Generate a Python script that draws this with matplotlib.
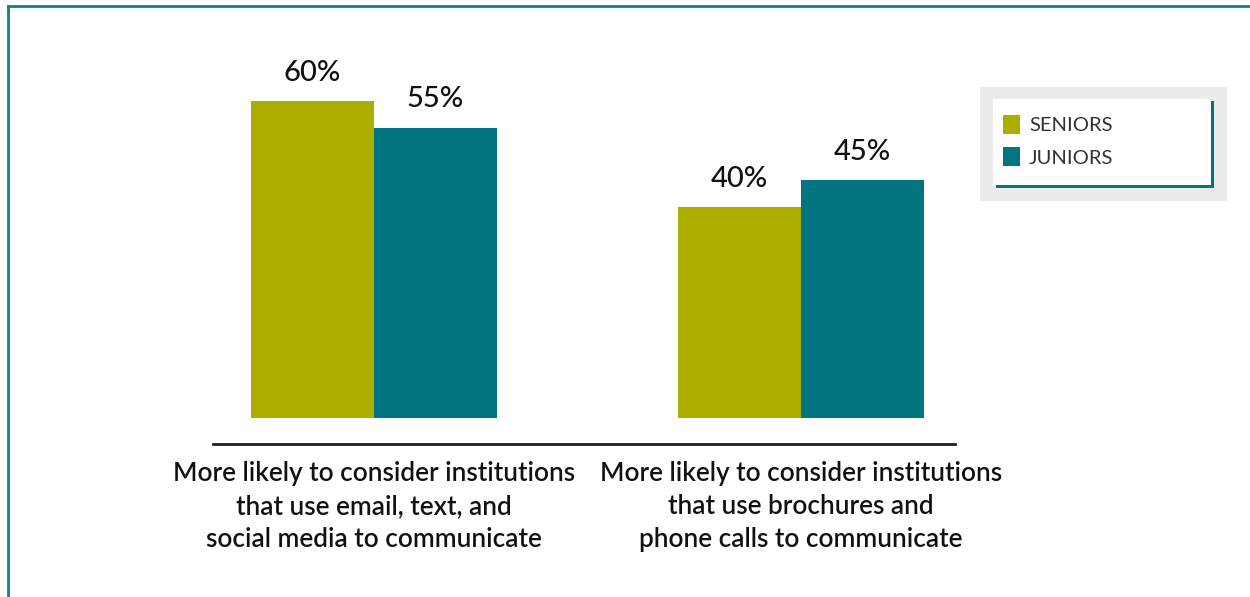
import matplotlib
matplotlib.use("Agg")
import matplotlib.pyplot as plt
from matplotlib.patches import Rectangle, Patch
from matplotlib.lines import Line2D
import numpy as np

categories = ["More likely to consider institutions\nthat use email, text, and\nsocial media to communicate",
              "More likely to consider institutions\nthat use brochures and\nphone calls to communicate"]
series_names = ["SENIORS", "JUNIORS"]
seniors = [60, 40]
juniors = [55, 45]

c_sen = "#ADAD00"
c_jun = "#027580"
c_border = "#12808C"

W, H = 1250, 597
fig = plt.figure(figsize=(W / 100, H / 100), dpi=100)
plt.rcParams['font.family'] = ['Lato', 'DejaVu Sans']

def fx(px):
    return px / W

def fy(py):
    return 1 - py / H

ax = fig.add_axes([fx(213), fy(418), fx(955) - fx(213), 369.6 / H])
x = np.arange(len(categories))
bw = 0.288
b1 = ax.bar(x - bw / 2, seniors, bw, color=c_sen, label=series_names[0])
b2 = ax.bar(x + bw / 2, juniors, bw, color=c_jun, label=series_names[1])
for bars in (b1, b2):
    for r in bars:
        ax.annotate(f"{r.get_height():.0f}%", (r.get_x() + r.get_width() / 2, r.get_height()),
                    xytext=(0, 11), textcoords="offset points", ha="center", va="bottom",
                    fontsize=21, color="#111111", fontweight="medium")
ax.set_xlim(-0.377, 1.361)
ax.set_ylim(0, 70)
for s in ("top", "right", "left"):
    ax.spines[s].set_visible(False)
ax.spines["bottom"].set_position(("outward", 19))
ax.spines["bottom"].set_linewidth(2)
ax.spines["bottom"].set_color("#231F20")
ax.set_yticks([])
ax.set_xticks(x)
ax.set_xticklabels(categories, fontsize=18.8, fontweight="semibold", color="#111111", linespacing=1.4)
ax.tick_params(axis="x", length=0, pad=12)

# outer border (top and left)
fig.add_artist(Line2D([fx(8), 1], [fy(6), fy(6)], color=c_border, lw=2))
fig.add_artist(Line2D([fx(8), fx(8)], [fy(6), 0], color=c_border, lw=2))

# legend box
fig.add_artist(Rectangle((fx(980), fy(201)), fx(1227) - fx(980), fy(87) - fy(201),
                         transform=fig.transFigure, facecolor="#ECEBE9", edgecolor="none"))
fig.add_artist(Rectangle((fx(996), fy(188)), fx(1214) - fx(996), fy(101) - fy(188),
                         transform=fig.transFigure, facecolor=c_jun, edgecolor="none"))
fig.add_artist(Rectangle((fx(993), fy(185)), fx(1211) - fx(993), fy(99) - fy(185),
                         transform=fig.transFigure, facecolor="white", edgecolor="none"))
handles = [Patch(facecolor=c_sen), Patch(facecolor=c_jun)]
leg = fig.legend(handles, series_names, loc="upper left", bbox_to_anchor=(fx(1003), fy(115)),
                 frameon=False, fontsize=14.5, handlelength=0.85, handleheight=1.05,
                 handletextpad=0.45, labelspacing=0.65, borderpad=0, borderaxespad=0)
for t in leg.get_texts():
    t.set_color("#333333")
    t.set_fontweight("normal")

fig.savefig("out.png", dpi=100)
